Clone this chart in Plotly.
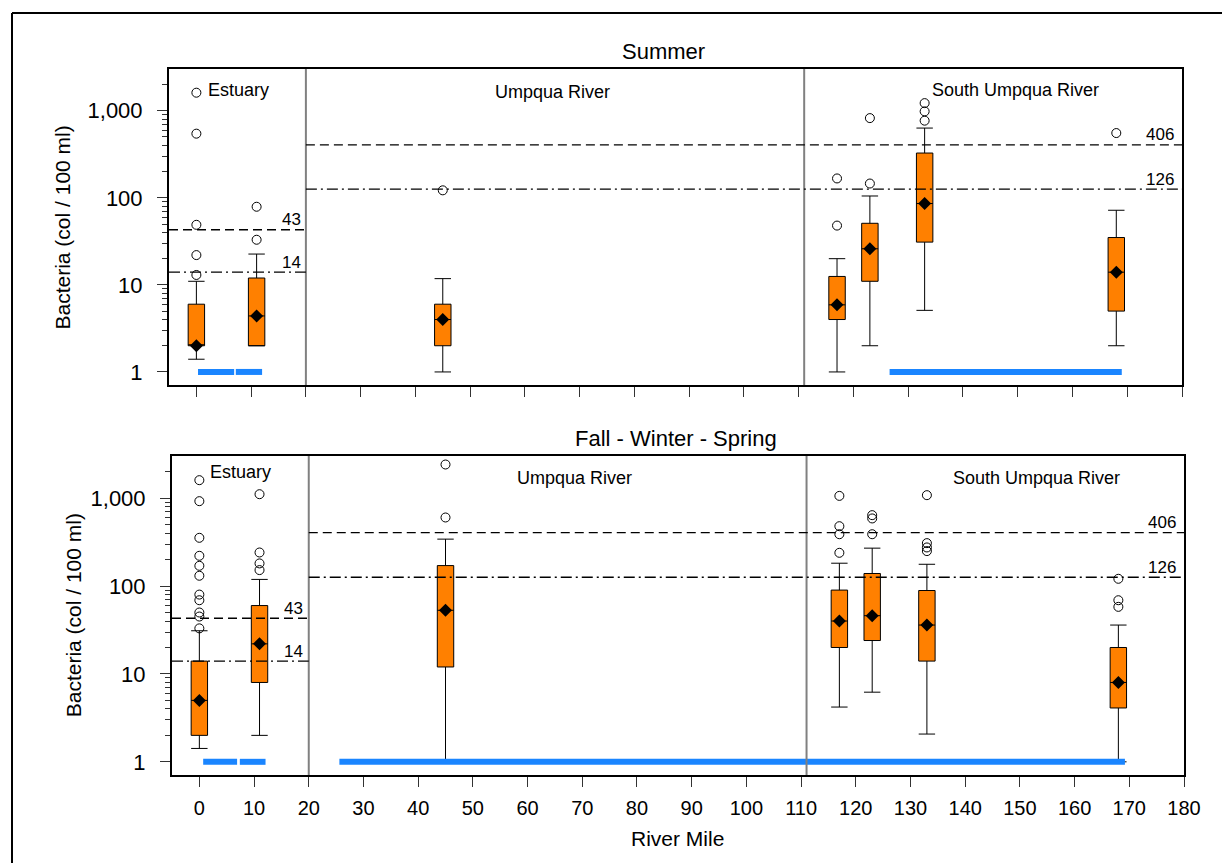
import math
import plotly.graph_objects as go

FONT = "Liberation Sans, Arial, Helvetica, sans-serif"

# ---------------- data ----------------
box_pos = [0, 11, 45, 117, 123, 133, 168]

summer_q1 = [2.0, 2.0, 2.0, 4.0, 11, 31, 5.0]
summer_median = [2.0, 4.4, 4.0, 5.9, 26, 86, 14]
summer_mean = [2.0, 4.4, 4.0, 5.9, 26, 86, 14]
summer_q3 = [6.0, 12, 6.0, 12.5, 51, 327, 35]
summer_low = [1.4, 2.0, 1.0, 1.0, 2.0, 5.1, 2.0]
summer_high = [11, 22.6, 11.8, 20, 105, 633, 72]
summer_outliers = [[13, 22, 49, 546, 1614], [33, 79], [122], [48, 167],
                   [146, 824], [770, 984, 1225], [555]]

fws_q1 = [2.0, 8.0, 12, 20, 24, 14, 4.1]
fws_median = [5.0, 22, 53, 40, 46, 36, 8.0]
fws_mean = [5.0, 22, 53, 40, 46, 36, 8.0]
fws_q3 = [14, 60, 171, 90, 139, 89, 20]
fws_low = [1.42, 2.0, 1.06, 4.2, 6.2, 2.07, 1.0]
fws_high = [31, 119, 342, 182, 270, 177, 36]
fws_outliers = [[33, 45, 50, 69, 80, 131, 170, 221, 354, 925, 1603],
                [152, 181, 241, 1110], [603, 2417], [239, 389, 480, 1062],
                [389, 588, 641], [250, 275, 308, 1082], [58, 69, 121]]

# water-quality criteria (col / 100 ml)
estuary_criteria = [43, 14]      # single sample, geometric mean
river_criteria = [406, 126]
criteria_labels_estuary = ["43", "14"]
criteria_labels_river = ["406", "126"]
region_bounds = [20, 111]        # river mile boundaries between reaches
x_range = [-5, 180]

# reaches listed (blue bars at baseline)
summer_segments = [[0.3, 6.9], [7.2, 12.0], [126.6, 169.0]]
fws_segments = [[0.7, 6.9], [7.4, 12.1], [25.6, 169.2]]

y_tickvals = [1, 10, 100, 1000]
y_ticktext = ["1", "10", "100", "1,000"]
x_tickvals = list(range(0, 181, 10))
minor_vals = [m * 10 ** k for k in range(0, 3) for m in range(2, 10)] + [2000]

ORANGE = "#FF8000"
BLUE = "#1A85FF"
W, H = 1222, 863
WE = 1205  # width the page actually lays the figure out at

fig = go.Figure()


def add_panel(xa, ya, q1, med, mean, q3, lo, hi, outs, segs):
    fig.add_trace(go.Box(
        x=box_pos, q1=q1, median=med, q3=q3, lowerfence=lo, upperfence=hi,
        width=3, whiskerwidth=1, fillcolor=ORANGE,
        line=dict(color="black", width=1), boxpoints=False,
        xaxis=xa, yaxis=ya, showlegend=False))
    ox, oy = [], []
    for p, vals in zip(box_pos, outs):
        for v in vals:
            ox.append(p)
            oy.append(v)
    fig.add_trace(go.Scatter(
        x=ox, y=oy, mode="markers", xaxis=xa, yaxis=ya, showlegend=False,
        marker=dict(symbol="circle-open", size=9, color="black",
                    line=dict(width=1, color="black"))))
    fig.add_trace(go.Scatter(
        x=box_pos, y=mean, mode="markers", xaxis=xa, yaxis=ya, showlegend=False,
        marker=dict(symbol="diamond", size=10, color="black")))
    sx, sy = [], []
    for a, b in segs:
        sx += [a, b, None]
        sy += [1, 1, None]
    fig.add_trace(go.Scatter(
        x=sx, y=sy, mode="lines", xaxis=xa, yaxis=ya, showlegend=False,
        line=dict(color=BLUE, width=6)))


add_panel("x", "y", summer_q1, summer_median, summer_mean, summer_q3,
          summer_low, summer_high, summer_outliers, summer_segments)
add_panel("x2", "y2", fws_q1, fws_median, fws_mean, fws_q3,
          fws_low, fws_high, fws_outliers, fws_segments)

shapes = []
annotations = []
dashes = ["9px,5px", "11px,4px,2px,4px"]
for xr, yr in [("x", "y"), ("x2", "y2")]:
    for b in region_bounds:
        shapes.append(dict(type="line", xref=xr, yref=yr + " domain",
                           x0=b, x1=b, y0=0, y1=1, layer="above",
                           line=dict(color="#808080", width=2)))
    for v, d in zip(estuary_criteria, dashes):
        shapes.append(dict(type="line", xref=xr, yref=yr, x0=x_range[0],
                           x1=region_bounds[0], y0=v, y1=v, layer="above",
                           line=dict(color="black", width=1.3, dash=d)))
    for v, d in zip(river_criteria, dashes):
        shapes.append(dict(type="line", xref=xr, yref=yr, x0=region_bounds[0],
                           x1=x_range[1], y0=v, y1=v, layer="above",
                           line=dict(color="black", width=1.3, dash=d)))
    for v, t in zip(estuary_criteria, criteria_labels_estuary):
        annotations.append(dict(xref=xr, yref=yr, x=19.4, y=math.log10(v),
                                text=t, showarrow=False, xanchor="right",
                                yanchor="middle", yshift=10,
                                font=dict(family=FONT, size=17, color="black")))
    for v, t in zip(river_criteria, criteria_labels_river):
        annotations.append(dict(xref=xr, yref=yr, x=178.9, y=math.log10(v),
                                text=t, showarrow=False, xanchor="right",
                                yanchor="middle", yshift=10,
                                font=dict(family=FONT, size=17, color="black")))

region_text = [
    ("x", "y", "Estuary", 7.7, 3.234),
    ("x", "y", "Umpqua River", 65.1, 3.215),
    ("x", "y", "South Umpqua River", 149.6, 3.242),
    ("x2", "y2", "Estuary", 7.5, 3.299),
    ("x2", "y2", "Umpqua River", 68.5, 3.227),
    ("x2", "y2", "South Umpqua River", 153.1, 3.227),
]
for xr, yr, t, xv, yv in region_text:
    annotations.append(dict(xref=xr, yref=yr, x=xv, y=yv, text=t,
                            showarrow=False, xanchor="center", yanchor="middle",
                            font=dict(family=FONT, size=18, color="black")))

# titles
for t, px, py, sz, ang in [("Summer", 663, 51.7, 22, 0),
                           ("Fall - Winter - Spring", 676, 438.3, 22, 0),
                           ("River Mile", 677.5, 838, 21, 0),
                           ("Bacteria (col / 100 ml)", 62, 227.5, 21, -90),
                           ("Bacteria (col / 100 ml)", 73, 615.3, 21, -90)]:
    annotations.append(dict(xref="paper", yref="paper", x=px / WE, y=1 - py / H,
                            text=t, showarrow=False, xanchor="center",
                            yanchor="middle", textangle=ang,
                            font=dict(family=FONT, size=sz, color="black")))

# outer frame
shapes.append(dict(type="line", xref="paper", yref="paper", x0=12 / WE, x1=1.02,
                   y0=1 - 13 / H, y1=1 - 13 / H, line=dict(color="black", width=2)))
shapes.append(dict(type="line", xref="paper", yref="paper", x0=12 / WE, x1=12 / WE,
                   y0=-0.01, y1=1 - 13 / H, line=dict(color="black", width=2)))

axis_common = dict(showline=True, mirror=True, linecolor="black", linewidth=2,
                   ticks="outside", ticklen=10, tickwidth=1, tickcolor="#333333",
                   showgrid=False, zeroline=False,
                   tickfont=dict(family=FONT, size=22, color="black"))
xcommon = dict(axis_common, range=x_range, tickmode="array", tickvals=x_tickvals)
ycommon = dict(axis_common, type="log", range=[-0.15, 3.48], tickmode="array",
               tickvals=y_tickvals, ticktext=y_ticktext, ticklabelstandoff=10,
               minor=dict(tickmode="array", tickvals=minor_vals, ticks="outside",
                          ticklen=5, tickwidth=1, tickcolor="#333333"))

fig.update_layout(
    width=W, height=H, autosize=False, margin=dict(l=0, r=0, t=0, b=0),
    paper_bgcolor="white", plot_bgcolor="white", showlegend=False,
    xaxis=dict(xcommon, domain=[169 / WE, 1182 / WE], anchor="y",
               showticklabels=False),
    yaxis=dict(ycommon, domain=[1 - 385 / H, 1 - 69 / H], anchor="x"),
    xaxis2=dict(xcommon, domain=[172 / WE, 1184 / WE], anchor="y2",
                ticklabelstandoff=4, tickfont=dict(family=FONT, size=20, color="black")),
    yaxis2=dict(ycommon, domain=[1 - 775 / H, 1 - 456 / H], anchor="x2"),
    shapes=shapes, annotations=annotations,
)

fig.write_html("out.html", config={"responsive": False})
